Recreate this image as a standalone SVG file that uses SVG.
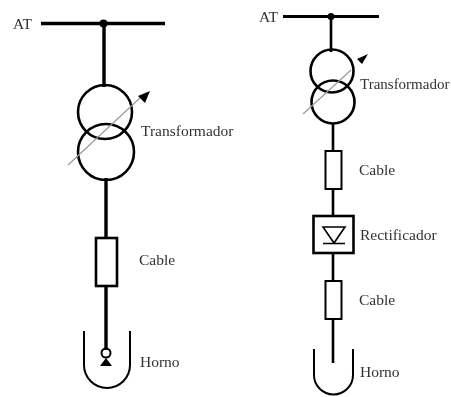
<svg xmlns="http://www.w3.org/2000/svg" width="451" height="397" viewBox="0 0 451 397">
<style>
.l{fill:none;stroke:#000;stroke-width:2.6}
.m{fill:none;stroke:#000;stroke-width:2}
.s{fill:none;stroke:#999;stroke-width:1.2}
text{font-family:"Liberation Serif","Times New Roman",serif;font-size:15.5px;fill:#333}
</style>
<defs>
<filter id="b" x="-5%" y="-5%" width="110%" height="110%"><feGaussianBlur stdDeviation="0.55"/></filter>
</defs>
<rect width="451" height="397" fill="#fff"/>
<g filter="url(#b)">
<g id="connectors">
<path class="l" style="stroke-width:3.4" d="M41 23.5H165"/>
<path class="l" style="stroke-width:3.4" d="M104 23V87M106 178V238M106 286V350"/>
<path class="l" style="stroke-width:3.2" d="M283 16.5H379"/>
<path class="l" d="M331 16V52M333 123V151M333 189V216M333 253V281M333 319V363"/>
<circle cx="103.500" cy="23.500" r="4"/>
<circle cx="331" cy="16.500" r="3.500"/>
</g>
<g id="at-left"><text x="13" y="29">AT</text></g>
<g id="transformer-left">
<circle class="l" cx="105" cy="112" r="27"/>
<circle class="l" cx="106" cy="152" r="28"/>
<path class="s" d="M68 165L141 97"/>
<path d="M150 91L138 96L145 103Z" fill="#000"/>
<text x="141" y="136">Transformador</text>
</g>
<g id="cable-left">
<rect class="l" x="96" y="238" width="21" height="48"/>
<text x="139" y="265">Cable</text>
</g>
<g id="furnace-left">
<path class="m" d="M84 331V365A23 23 0 0 0 130 365V331"/>
<circle class="m" cx="106" cy="353" r="4.500"/>
<path d="M106 358L112 366H100Z" fill="#000"/>
<text x="140" y="367">Horno</text>
</g>
<g id="at-right"><text x="259" y="22">AT</text></g>
<g id="transformer-right">
<circle class="l" cx="332" cy="71" r="21.500"/>
<circle class="l" cx="333" cy="102" r="21.500"/>
<path class="s" d="M303 114L351 70"/>
<path d="M368 54L357 59L362 64Z" fill="#000"/>
<text x="360" y="89" style="font-size:15px">Transformador</text>
</g>
<g id="cable-right-1">
<rect class="m" x="325.500" y="151" width="16" height="38"/>
<text x="359" y="175">Cable</text>
</g>
<g id="rectifier">
<rect class="l" x="313.500" y="216" width="40" height="37"/>
<path class="m" style="stroke-width:1.6" d="M323 227H345L334 243ZM323 243.500H345"/>
<text x="360" y="240">Rectificador</text>
</g>
<g id="cable-right-2">
<rect class="m" x="325.500" y="281" width="16" height="38"/>
<text x="359" y="305">Cable</text>
</g>
<g id="furnace-right">
<path class="m" d="M314 349V375A19.500 19.500 0 0 0 353 375V349"/>
<text x="360" y="377">Horno</text>
</g>
</g>
</svg>
